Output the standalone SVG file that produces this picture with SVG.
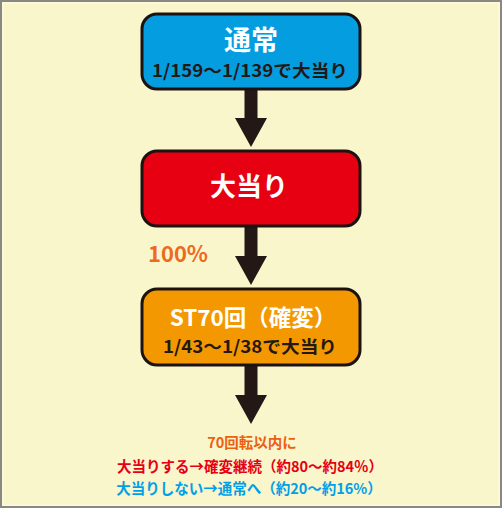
<svg xmlns="http://www.w3.org/2000/svg" width="502" height="508" viewBox="0 0 502 508">
<style>
.box{stroke:#1a1311;stroke-width:3}
.t{font-family:"Noto Sans CJK JP","Noto Sans",sans-serif;font-weight:700;text-anchor:middle}
.w{fill:#ffffff}
.d{fill:#231815}
</style>
<defs>
<path id="arr" d="M-6.5,0 H6.5 V29 H16 L0,58 L-16,29 H-6.5 Z" fill="#231815"/>
</defs>
<rect x="0" y="0" width="502" height="508" fill="#faf6cc"/>
<rect x="1" y="1" width="500" height="506" fill="none" stroke="#8a8884" stroke-width="2"/>
<rect x="3" y="3" width="496" height="502" fill="none" stroke="#fffbe0" stroke-width="1"/>
<g id="connectors">
<use href="#arr" x="251" y="89"/>
<use href="#arr" x="251" y="227"/>
<use href="#arr" x="251" y="366"/>
</g>
<g id="node-normal">
<rect class="box" x="142" y="14" width="218" height="75" rx="15" fill="#039de0"/>
<text class="t w" x="251" y="50" font-size="27">通常</text>
<text class="t d" x="250" y="76.5" font-size="17.5" textLength="196" lengthAdjust="spacingAndGlyphs">1/159〜1/139で大当り</text>
</g>
<g id="node-hit">
<rect class="box" x="142" y="151" width="218" height="75" rx="15" fill="#e60012"/>
<text class="t w" x="249" y="196" font-size="26">大当り</text>
</g>
<g id="label-100">
<text class="t" x="178" y="262" font-size="22" fill="#ec6b1f">100%</text>
</g>
<g id="node-st">
<rect class="box" x="142" y="289" width="218" height="76" rx="15" fill="#f39800"/>
<text class="t w" x="253" y="326" font-size="22.5">ST70回（確変）</text>
<text class="t d" x="250" y="352.5" font-size="17.5" textLength="174" lengthAdjust="spacingAndGlyphs">1/43〜1/38で大当り</text>
</g>
<g id="result">
<text class="t" x="252" y="448" font-size="14.5" fill="#ea6112">70回転以内に</text>
<text class="t" x="250" y="472" font-size="14.5" fill="#e60012">大当りする→確変継続（約80〜約84％）</text>
<text class="t" x="249" y="494" font-size="14.5" fill="#00a0e9">大当りしない→通常へ（約20〜約16%）</text>
</g>
</svg>
